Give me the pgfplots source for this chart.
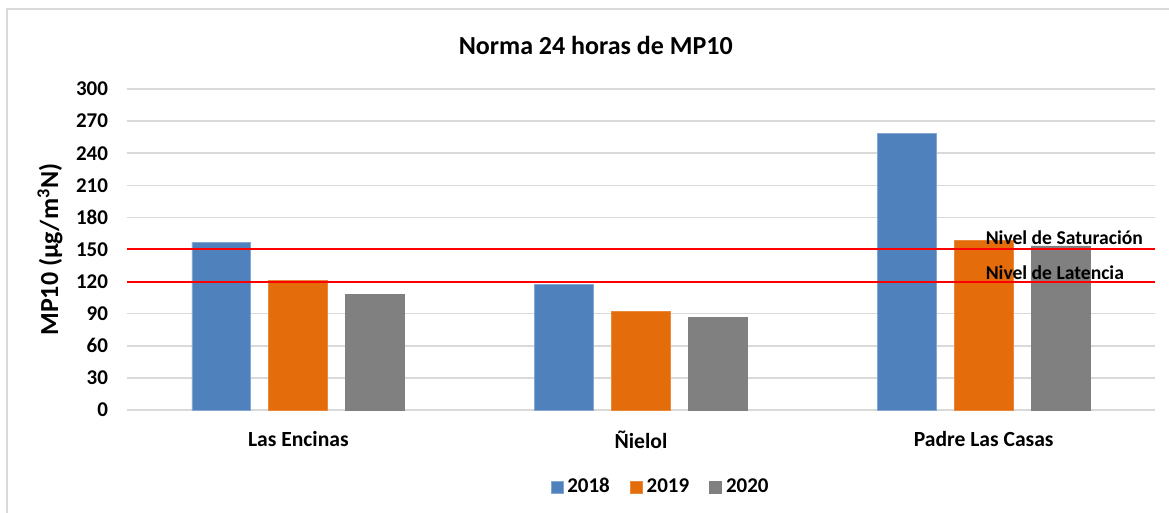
\documentclass[border=0pt]{standalone}
\usepackage{pgfplots}
\pgfplotsset{compat=1.18}
\usepackage{fontspec}
\setmainfont{Carlito}
\definecolor{cblue}{HTML}{4F81BD}
\definecolor{corange}{HTML}{E46C0A}
\definecolor{cgray}{HTML}{808080}
\definecolor{cgrid}{HTML}{D9D9D9}
\begin{document}
\begin{tikzpicture}
\useasboundingbox (-63.5pt,-51.5pt) rectangle (521pt,205pt);
\draw[cgrid, line width=1pt] (-60pt,-70pt) -- (-60pt,200.5pt) -- (540pt,200.5pt);
\begin{axis}[
  scale only axis,
  width=514pt, height=160.5pt,
  xmin=-0.5, xmax=2.5,
  ymin=0, ymax=300,
  ytick={0,30,...,300},
  xtick={0,1,2},
  xticklabels={Las Encinas,Ñielol,Padre Las Casas},
  font=\bfseries,
  yticklabel style={font=\fontsize{10.5}{12}\selectfont\bfseries, xshift=-6pt},
  xticklabel style={font=\fontsize{10.8}{12}\selectfont\bfseries, yshift=-7pt},
  /pgf/number format/assume math mode=true,
  major tick length=0pt,
  axis line style={draw=none},
  ymajorgrids, grid style={cgrid, line width=0.75pt},
  extra y ticks={0}, extra y tick labels={},
  extra y tick style={grid style={cgrid, line width=0.9pt}},
  title={Norma 24 horas de MP10},
  title style={at={(axis description cs:0.456,1.097)}, anchor=center, font=\fontsize{13}{15}\selectfont\bfseries},
  ylabel={MP10 (µg/m\textsuperscript{3}N)},
  ylabel style={at={(axis description cs:-0.0749,0.5)}, anchor=center, rotate=0, font=\fontsize{13}{15}\selectfont\bfseries},
  legend style={draw=none, at={(axis description cs:0.52,-0.24)}, anchor=center, legend columns=3, font=\fontsize{10.5}{12}\selectfont\bfseries, /tikz/every even column/.append style={column sep=8pt}},
  legend image code/.code={\fill[#1] (0pt,-3pt) rectangle (6pt,3pt);},
  clip=false,
]
\addplot[ybar, bar width=0.172, bar shift=-0.2245, fill=cblue, draw=cblue!70!white] coordinates {(0,157) (1,117.5) (2,258.6)};
\addplot[ybar, bar width=0.172, bar shift=0, fill=corange, draw=corange!80!white] coordinates {(0,120.8) (1,92.2) (2,158.2)};
\addplot[ybar, bar width=0.172, bar shift=0.2245, fill=cgray, draw=cgray] coordinates {(0,108.4) (1,86.3) (2,153.3)};
\legend{2018,2019,2020}
\addplot[red, line width=1pt, forget plot] coordinates {(-0.5,150) (2.5,150)};
\addplot[red, line width=1pt, forget plot] coordinates {(-0.5,120) (2.5,120)};
\node[anchor=west, inner sep=0pt, font=\fontsize{9.8}{11}\selectfont\bfseries] at (axis cs:2.005,161) {Nivel de Saturación};
\node[anchor=west, inner sep=0pt, font=\fontsize{9.8}{11}\selectfont\bfseries] at (axis cs:2.005,128) {Nivel de Latencia};
\end{axis}
\end{tikzpicture}
\end{document}
